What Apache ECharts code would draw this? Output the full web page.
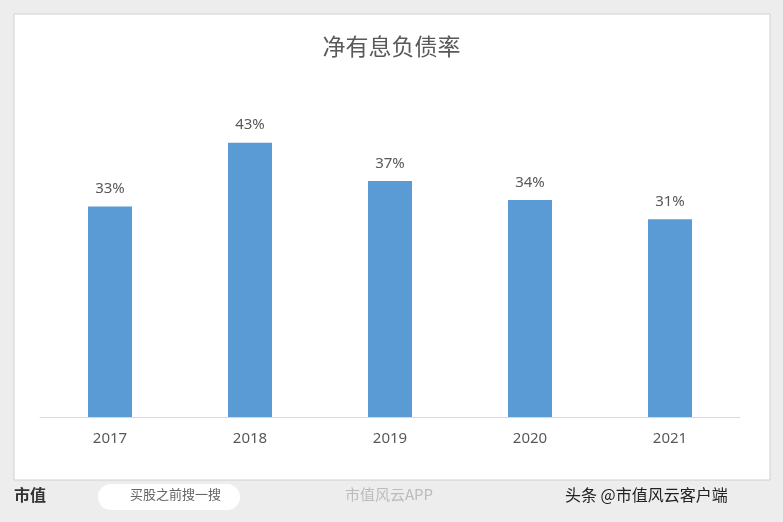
<!DOCTYPE html><html><head><meta charset="utf-8">
<script src="https://cdn.jsdelivr.net/npm/echarts@6/dist/echarts.min.js"></script>
<style>html,body{margin:0;padding:0;background:#ededed}#c{width:783px;height:522px}</style></head>
<body><div id="c"></div><script>
const categories=['2017','2018','2019','2020','2021'];
const values=[33,43,37,34,31];
const labels=['33%','43%','37%','34%','31%'];
const ch=echarts.init(document.getElementById('c'));
ch.setOption({
 backgroundColor:'#ededed',
 graphic:[
  {type:'rect',shape:{x:14,y:14,width:756,height:466},style:{fill:'#fff',stroke:'#d0d0d0'}},
  {type:'text',left:14,top:487,style:{text:'市值',font:'bold 16px "Noto Sans CJK SC"',fill:'#333'}},
  {type:'rect',shape:{x:98,y:484,width:142,height:26,r:13},style:{fill:'#fff'}},
  {type:'text',left:130,top:488,style:{text:'买股之前搜一搜',font:'13px "Noto Sans CJK SC"',fill:'#666'}},
  {type:'text',left:345,top:487,style:{text:'市值风云APP',font:'15px "Noto Sans CJK SC"',fill:'#bbb'}},
  {type:'text',left:565,top:487,style:{text:'头条 @市值风云客户端',font:'16px "Noto Sans CJK SC"',fill:'#222'}}
 ],
 title:{text:'净有息负债率',left:'center',top:30,textStyle:{fontFamily:'Noto Sans CJK SC',fontSize:23,fontWeight:'normal',color:'#595959'}},
 grid:{left:40,right:43,top:98,bottom:105},
 xAxis:{type:'category',data:categories,axisLine:{lineStyle:{color:'#d9d9d9'}},axisTick:{show:false},
  axisLabel:{color:'#595959',fontSize:15,margin:14,fontFamily:'Noto Sans'}},
 yAxis:{type:'value',min:0,max:50,show:false,splitLine:{show:false}},
 series:[{type:'bar',data:values,barWidth:44,itemStyle:{color:'#5b9bd5'},
  label:{show:true,position:'top',distance:10,color:'#595959',fontSize:15,fontFamily:'Noto Sans',formatter:p=>labels[p.dataIndex]}}]
});
</script></body></html>
